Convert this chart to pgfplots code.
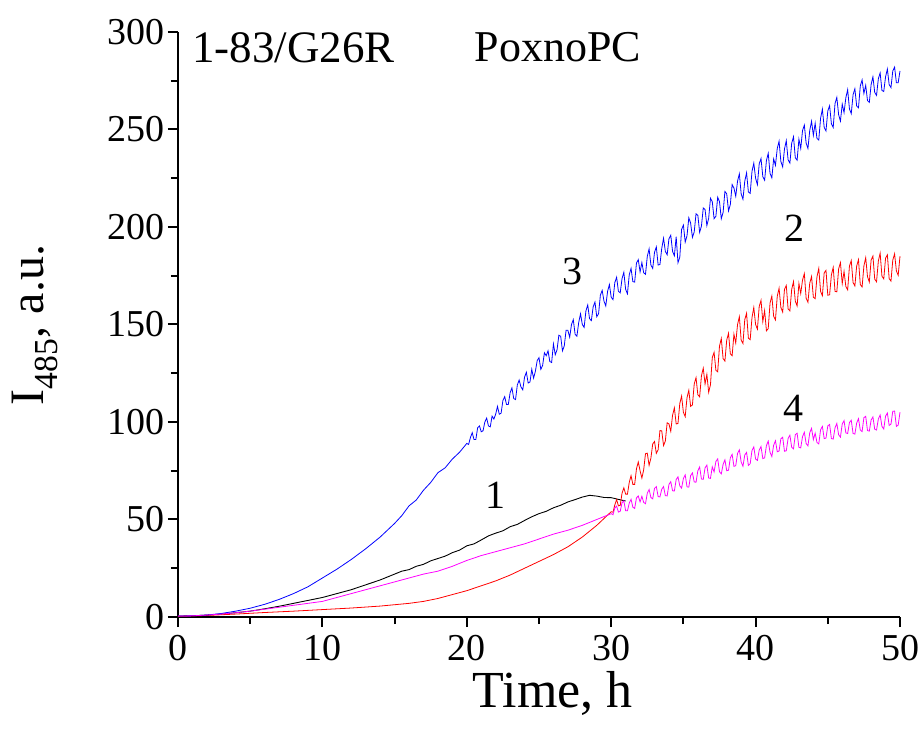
\documentclass[border=0pt]{standalone}
\usepackage{fontspec}
\setmainfont{Liberation Serif}
\usepackage{pgfplots}
\pgfplotsset{compat=1.18}
\definecolor{cblue}{RGB}{0,0,255}
\definecolor{cred}{RGB}{255,0,0}
\definecolor{cmag}{RGB}{255,0,255}
\begin{document}
\begin{tikzpicture}
\begin{axis}[
  scale only axis,
  width=722pt, height=585pt,
  xmin=0, xmax=50, ymin=0, ymax=300,
  axis x line*=bottom, axis y line*=left,
  axis line style={line width=2pt, -},
  xtick={0,10,20,30,40,50}, ytick={0,50,100,150,200,250,300},
  minor tick num=1,
  tick align=outside,
  major tick length=10pt, minor tick length=7pt,
  every tick/.style={black, line width=2pt},
  tick label style={font=\fontsize{38}{40}\selectfont},
  xticklabel style={yshift=-5pt},
  /pgf/number format/assume math mode=true,
  clip=false,
]
% curve 1 (black)
\addplot[black, line width=0.9pt] coordinates {
(0,0.5)(1,0.6)(2,1)(3,1.5)(4,2.2)(5,3)(6,4.2)(7,5.5)(8,7)(9,8.5)(10,10)(11,12)(12,14)(13,16.5)(14,19)
(15,22)(15.5,23.5)(16,24.3)(16.5,26)(17,27)(17.5,28.8)(18,30)(18.5,31.2)(19,33)(19.5,34.3)(20,36.5)
(20.5,37.5)(21,39.5)(21.5,41.6)(22,43)(22.5,44.2)(23,46.3)(23.5,47.5)(24,49.5)(24.5,51.4)(25,53)
(25.5,54.2)(26,56)(26.5,57.3)(27,59)(27.5,60.2)(28,61.5)(28.5,62.4)(29,62)(29.5,61.3)(30,61.2)(30.5,60.3)(31,59.5)};
% curve 2 (red)
\addplot[cred, line width=0.8pt] coordinates {
(0,0.3)(2,0.8)(4,1.5)(6,2.3)(8,3)(10,3.8)(12,4.6)(14,5.6)(16,7)(17,8)(18,9.5)(19,11.5)(20,13.5)(21,16)(22,18.5)
(23,21.5)(24,25)(25,28.5)(26,32)(27,36)(28,41)(29,47)
(30,54)(30.125,53.75)(30.25,57.5)(30.375,60.25)(30.5,57)(30.625,57.25)(30.75,63.5)(30.875,66.25)(31,63)(31.125,63)(31.25,69)(31.375,72.5)(31.5,68)(31.625,68)(31.75,76)(31.875,79.5)(32,75)
(32.125,71.25)(32.25,75.5)(32.375,83.75)(32.5,84)(32.625,77.75)(32.75,81.5)(32.875,88.75)(33,90)(33.125,83.9)(33.25,85.75)(33.375,95.6)(33.5,95.5)(33.625,87.9)(33.75,90.25)(33.875,99.6)(34,99)
(34.125,95.25)(34.25,103.5)(34.375,107.25)(34.5,99)(34.625,99.25)(34.75,109.5)(34.875,113.25)(35,105)(35.125,102.75)(35.25,112.5)(35.375,116.25)(35.5,108)(35.625,108.75)(35.75,119.5)(35.875,122.75)(36,114)
(36.125,112.9)(36.25,123.75)(36.375,127.6)(36.5,119.5)(36.625,124.4)(36.75,115.25)(36.875,119.1)(37,133)(37.125,135.75)(37.25,126.5)(37.375,125.75)(37.5,139)(37.625,142.75)(37.75,132.5)(37.875,131.25)(38,142)
(38.125,145.5)(38.25,135)(38.375,134)(38.5,145)(38.625,140.5)(38.75,150)(38.875,154)(39,142)(39.125,140.25)(39.25,152.5)(39.375,155.75)(39.5,143)(39.625,142.25)(39.75,153.5)(39.875,158.75)(40,150)
(40.125,147.6)(40.25,159.25)(40.375,162.4)(40.5,151.5)(40.625,157.1)(40.75,146.75)(40.875,147.9)(41,161)(41.125,164.6)(41.25,154.25)(41.375,152.4)(41.5,164.5)(41.625,168.6)(41.75,158.75)(41.875,156.4)(42,168)
(42.125,170)(42.25,158)(42.375,157)(42.5,168)(42.625,172)(42.75,162)(42.875,159.5)(43,171)(43.125,165.9)(43.25,172.75)(43.375,176.1)(43.5,163.5)(43.625,161.4)(43.75,171.25)(43.875,174.6)(44,164)
(44.125,163.25)(44.25,174.5)(44.375,178.75)(44.5,167)(44.625,164.75)(44.75,176.5)(44.875,177.75)(45,165)(45.125,165.25)(45.25,175.5)(45.375,179.25)(45.5,167)(45.625,166.75)(45.75,178.5)(45.875,181.75)(46,171)
(46.125,177.25)(46.25,169.5)(46.375,167.75)(46.5,180)(46.625,182.75)(46.75,171.5)(46.875,169.75)(47,180)(47.125,183.25)(47.25,170.5)(47.375,169.25)(47.5,180)(47.625,184.25)(47.75,174.5)(47.875,171.75)(48,183)
(48.125,185.1)(48.25,173.25)(48.375,171.9)(48.5,182.5)(48.625,186.6)(48.75,174.75)(48.875,173.4)(49,184)(49.125,185.75)(49.25,173.5)(49.375,172.25)(49.5,183)(49.625,186.25)(49.75,177.5)(49.875,175.25)(50,185)};
% curve 3 (blue)
\addplot[cblue, line width=0.8pt] coordinates {
(0,0.5)(1,0.6)(2,1)(3,1.8)(4,3)(5,4.5)(6,6.5)(7,9)(8,12)(9,15.5)(10,20)(11,24.5)(12,29.5)(13,35)(14,41)
(15,48)(15.5,52)(16,57)(16.5,60)(17,65)(17.5,69)(18,74)(18.5,76.5)(19,81)(19.5,84.5)
(20,89)(20.125,88.5)(20.25,92)(20.375,94.5)(20.5,91)(20.625,91)(20.75,97)(20.875,98)(21,95)(21.125,95.5)(21.25,100)(21.375,102)(21.5,98)(21.625,97.5)(21.75,103)(21.875,101.5)(22,104)
(22.125,108)(22.25,104)(22.375,104.5)(22.5,111)(22.625,113)(22.75,109)(22.875,109)(23,115)(23.125,117.5)(23.25,112)(23.375,111.5)(23.5,119)(23.625,121.5)(23.75,118)(23.875,116.5)(24,123)
(24.125,125.5)(24.25,120)(24.375,120.5)(24.5,127)(24.625,122.5)(24.75,126)(24.875,131.5)(25,133)(25.125,127)(25.25,129)(25.375,135.5)(25.5,134)(25.625,136.5)(25.75,131)(25.875,130.5)(26,140)
(26.125,134.5)(26.25,137)(26.375,144.5)(26.5,144)(26.625,136.5)(26.75,139)(26.875,147)(27,147)(27.125,143.5)(27.25,150)(27.375,152.5)(27.5,145)(27.625,144)(27.75,151)(27.875,155.5)(28,150)
(28.125,148.5)(28.25,157)(28.375,160)(28.5,153)(28.625,152)(28.75,159)(28.875,161.5)(29,154)(29.125,155.5)(29.25,165)(29.375,167.5)(29.5,162)(29.625,159.5)(29.75,167)(29.875,170.5)(30,164)
(30.125,162.75)(30.25,171.5)(30.375,174.25)(30.5,167)(30.625,166.25)(30.75,173.5)(30.875,176.75)(31,168)(31.125,165.75)(31.25,175.5)(31.375,178.75)(31.5,172)(31.625,171.75)(31.75,181.5)(31.875,183.25)(32,177)
(32.125,181.75)(32.25,176.5)(32.375,175.75)(32.5,185)(32.625,188.75)(32.75,180.5)(32.875,178.75)(33,187)(33.125,189.75)(33.25,180.5)(33.375,180.75)(33.5,189)(33.625,194.25)(33.75,187.5)(33.875,185.75)(34,194)
(34.125,195.75)(34.25,187.5)(34.375,185.25)(34.5,195)(34.625,181.75)(34.75,184.5)(34.875,198.75)(35,201)(35.125,192.25)(35.25,195.5)(35.375,204.75)(35.5,202)(35.625,194.75)(35.75,197.5)(35.875,206.75)(36,206)
(36.125,197.25)(36.25,200.5)(36.375,209.75)(36.5,209)(36.625,200.75)(36.75,204.5)(36.875,214.75)(37,213)(37.125,204.25)(37.25,205.5)(37.375,215.25)(37.5,213)(37.625,204.25)(37.75,207.5)(37.875,218.25)(38,217)
(38.125,208.25)(38.25,211.5)(38.375,221.75)(38.5,220)(38.625,215.75)(38.75,223.5)(38.875,227.25)(39,217)(39.125,214.25)(39.25,223.5)(39.375,227.75)(39.5,218)(39.625,217.25)(39.75,228.5)(39.875,232.75)(40,225)
(40.125,221.7)(40.25,232.4)(40.375,235.1)(40.5,225.8)(40.625,223.95)(40.75,234.1)(40.875,237.8)(41,227.5)(41.125,225.2)(41.25,234.9)(41.375,231.6)(41.5,240.3)(41.625,243.95)(41.75,233.6)(41.875,230.8)(42,240)
(42.125,244.25)(42.25,234.5)(42.375,232.75)(42.5,243)(42.625,246.25)(42.75,235.5)(42.875,234.25)(43,245)(43.125,240.25)(43.25,249.5)(43.375,252.25)(43.5,243)(43.625,240.25)(43.75,249.5)(43.875,254.25)(44,247)
(44.125,253.2)(44.25,245.4)(44.375,244.6)(44.5,255.8)(44.625,260.45)(44.75,251.1)(44.875,249.3)(45,259.5)(45.125,262.2)(45.25,252.9)(45.375,251.1)(45.5,263.3)(45.625,266.45)(45.75,257.6)(45.875,254.3)(46,263)
(46.125,258.65)(46.25,266.3)(46.375,270.4)(46.5,260.5)(46.625,258.15)(46.75,267.8)(46.875,270.9)(47,262)(47.125,261.15)(47.25,272.3)(47.375,275.4)(47.5,268.5)(47.625,272.65)(47.75,264.8)(47.875,263.9)(48,273)
(48.125,277)(48.25,269)(48.375,267.5)(48.5,276)(48.625,279)(48.75,270)(48.875,269.5)(49,277)(49.125,281)(49.25,273)(49.375,271.5)(49.5,280)(49.625,282)(49.75,274)(49.875,274)(50,280)};
% curve 4 (magenta)
\addplot[cmag, line width=0.8pt] coordinates {
(0,0.5)(1,0.6)(2,1)(3,1.5)(4,2.2)(5,3)(6,4)(7,5)(8,6)(9,7)(10,8)(11,10)(12,12)(13,14)(14,16)
(15,18)(16,20)(17,22)(18,23.5)(19,26)(20,29)(21,31.5)(22,33.5)(23,35.5)(24,37.5)(25,40)(26,42.5)
(27,44.5)(28,47)(29,50)
(30,53)(30.125,52.45)(30.25,55.9)(30.375,56.85)(30.5,53.8)(30.625,54.2)(30.75,58.6)(30.875,59.55)(31,54.5)(31.125,54.45)(31.25,58.4)(31.375,60.35)(31.5,56.3)(31.625,55.7)(31.75,61.1)(31.875,62.05)(32,59)
(32.125,61.9)(32.25,58.75)(32.375,58.1)(32.5,63.5)(32.625,65.4)(32.75,61.25)(32.875,60.6)(33,66)(33.125,66.9)(33.25,61.75)(33.375,61.6)(33.5,65.5)(33.625,66.9)(33.75,62.25)(33.875,62.1)(34,68)
(34.125,69.4)(34.25,64.75)(34.375,64.6)(34.5,70.5)(34.625,71.9)(34.75,67.25)(34.875,66.1)(35,71)(35.125,72.9)(35.25,66.75)(35.375,66.6)(35.5,72.5)(35.625,73.9)(35.75,69.25)(35.875,69.1)(36,75)
(36.125,76.9)(36.25,70.75)(36.375,70.6)(36.5,76.5)(36.625,77.9)(36.75,71.25)(36.875,71.1)(37,77)(37.125,74.4)(37.25,79.75)(37.375,81.1)(37.5,74.5)(37.625,73.4)(37.75,78.25)(37.875,80.6)(38,75)
(38.125,75.3)(38.25,81.6)(38.375,83.4)(38.5,77.25)(38.625,77.6)(38.75,83.9)(38.875,85.7)(39,79.5)(39.125,77.3)(39.25,83.1)(39.375,84.4)(39.5,77.75)(39.625,78.6)(39.75,85.4)(39.875,87.2)(40,81)
(40.125,80.3)(40.25,85.6)(40.375,87.4)(40.5,81.25)(40.625,81.6)(40.75,87.9)(40.875,90.2)(41,84.5)(41.125,82.3)(41.25,88.1)(41.375,90.4)(41.5,84.75)(41.625,85.1)(41.75,91.4)(41.875,92.2)(42,85)
(42.125,85.25)(42.25,91.5)(42.375,93.25)(42.5,87)(42.625,86.25)(42.75,93.5)(42.875,94.25)(43,87)(43.125,86.75)(43.25,92.5)(43.375,94.75)(43.5,89)(43.625,87.75)(43.75,94.5)(43.875,96.75)(44,91)
(44.125,94.25)(44.25,89.5)(44.375,88.75)(44.5,96)(44.625,97.75)(44.75,91.5)(44.875,91.75)(45,98)(45.125,98.75)(45.25,91.5)(45.375,91.25)(45.5,97)(45.625,99.25)(45.75,93.5)(45.875,92.25)(46,99)
(46.125,100.7)(46.25,94.4)(46.375,94.1)(46.5,99.75)(46.625,100.9)(46.75,94.1)(46.875,93.8)(47,99.5)(47.125,101.7)(47.25,95.9)(47.375,95.1)(47.5,102.25)(47.625,102.9)(47.75,95.6)(47.875,95.3)(48,101)
(48.125,102.6)(48.25,96.25)(48.375,95.9)(48.5,101.5)(48.625,103.6)(48.75,97.75)(48.875,96.4)(49,103)(49.125,104.6)(49.25,98.25)(49.375,98.9)(49.5,105.5)(49.625,105.6)(49.75,97.75)(49.875,98.4)(50,105)};
\node[font=\fontsize{45}{48}\selectfont] at (axis cs:8.0,292) {1-83/G26R};
\node[font=\fontsize{44}{48}\selectfont] at (axis cs:26.3,292) {PoxnoPC};
\node[font=\fontsize{40}{44}\selectfont] at (axis cs:22.0,62.6) {1};
\node[font=\fontsize{40}{44}\selectfont] at (axis cs:42.7,199.5) {2};
\node[font=\fontsize{40}{44}\selectfont] at (axis cs:27.3,177) {3};
\node[font=\fontsize{40}{44}\selectfont] at (axis cs:42.6,107) {4};
\node[font=\fontsize{52}{56}\selectfont] at (axis description cs:0.519,-0.130) {Time, h};
\node[font=\fontsize{48}{52}\selectfont, rotate=90] at (axis description cs:-0.198,0.499) {I\textsubscript{485}, a.u.};
\end{axis}
\pgfresetboundingbox
\path[use as bounding box] (current axis.south west) ++(-178pt,-116pt) rectangle ++(923pt,733pt);
\end{tikzpicture}
\end{document}
